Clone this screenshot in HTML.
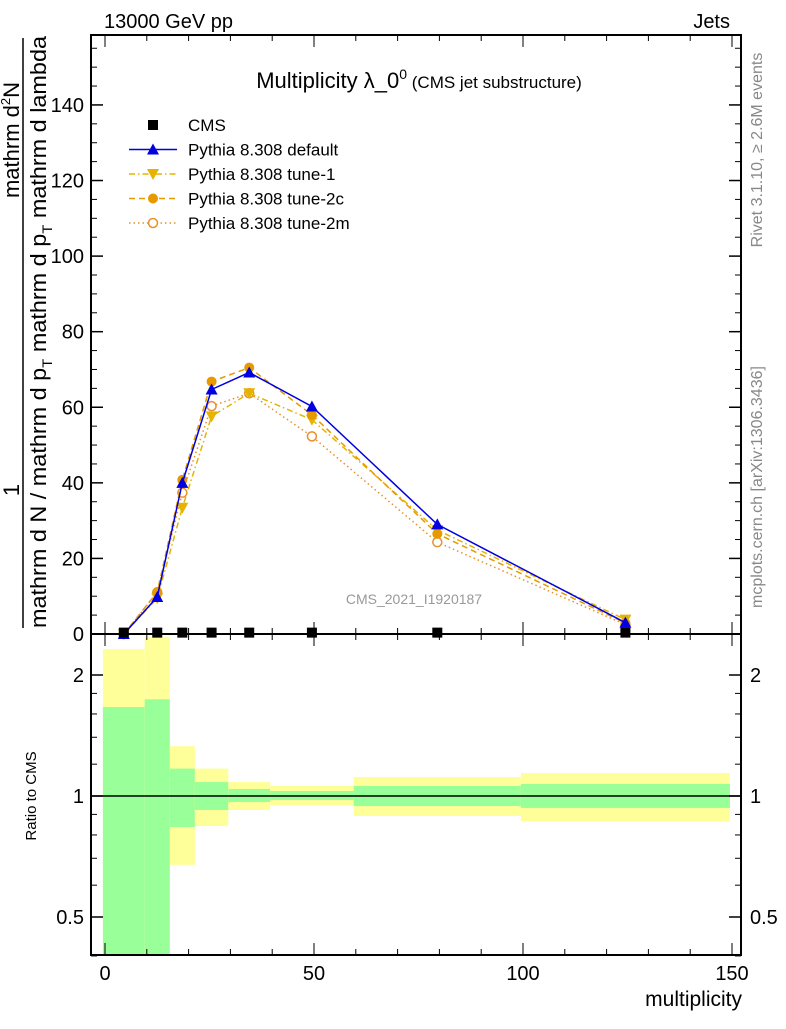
<!DOCTYPE html>
<html><head><meta charset="utf-8"><style>
body{margin:0;background:#fff}
svg{font-family:"Liberation Sans",sans-serif}
</style></head><body>
<svg id="c" width="786" height="1024" viewBox="0 0 786 1024" xmlns="http://www.w3.org/2000/svg">
<text x="104" y="28" font-size="20">13000 GeV pp</text>
<text x="730" y="28" font-size="20" text-anchor="end">Jets</text>
<text x="419" y="88" font-size="22" text-anchor="middle">Multiplicity λ_0<tspan font-size="14" dy="-9">0</tspan><tspan font-size="17" dy="9"> (CMS jet substructure)</tspan></text>
<text x="414" y="604" font-size="14" fill="#999" text-anchor="middle">CMS_2021_I1920187</text>
<text transform="translate(762,150) rotate(-90)" font-size="16" fill="#888" text-anchor="middle">Rivet 3.1.10, ≥ 2.6M events</text>
<text transform="translate(762,487) rotate(-90)" font-size="16" fill="#888" text-anchor="middle">mcplots.cern.ch [arXiv:1306.3436]</text>
<g font-size="22">
<text transform="translate(19,140) rotate(-90)" text-anchor="middle">mathrm d<tspan font-size="13" dy="-9">2</tspan><tspan dy="9">N</tspan></text>
<text transform="translate(19,490) rotate(-90)" text-anchor="middle">1</text>
<line x1="23" y1="38" x2="23" y2="628" stroke="#000" stroke-width="1.5"/>
<text transform="translate(46,628) rotate(-90)" textLength="592" lengthAdjust="spacingAndGlyphs">mathrm d N / mathrm d p<tspan font-size="14" dy="6">T</tspan><tspan dy="-6"> mathrm d p</tspan><tspan font-size="14" dy="6">T</tspan><tspan dy="-6"> mathrm d lambda</tspan></text>
</g>
<text transform="translate(36,796) rotate(-90)" font-size="15" text-anchor="middle">Ratio to CMS</text>
<text x="742" y="1006" font-size="21" text-anchor="end">multiplicity</text>
<g id="bands"></g><g id="axes"></g><g id="series"></g><g id="legend"></g>
<rect x="91" y="35" width="650" height="599" fill="none" stroke="#000" stroke-width="2"/>
<rect x="91" y="634" width="650" height="321" fill="none" stroke="#000" stroke-width="2"/>
</svg>
<script>
const NS="http://www.w3.org/2000/svg";
const binEdges=[-0.5,9.5,15.5,21.5,29.5,39.5,59.5,99.5,149.5];
const binCenters=[4.5,12.5,18.5,25.5,34.5,49.5,79.5,124.5];
const cmsVals=[0.1,0.1,0.1,0.1,0.1,0.1,0.1,0.1];
const defaultVals=[0,9.8,40,64.7,69.2,60.2,29,3];
const tune1Vals=[0,9.5,33.4,57.6,63.7,56.7,27.5,3.8];
const tune2cVals=[0,11.1,40.8,66.8,70.5,58,26.5,2.9];
const tune2mVals=[0,11,37.4,60.3,63.7,52.3,24.3,2.5];
const yellowHi=[2.32,2.49,1.33,1.17,1.083,1.059,1.115,1.141];
const greenHi=[1.665,1.74,1.17,1.083,1.041,1.029,1.059,1.071];
const greenLo=[0.3,0.3,0.837,0.923,0.966,0.977,0.944,0.934];
const yellowLo=[0.3,0.3,0.674,0.842,0.923,0.95,0.892,0.866];
const yTicks=[0,20,40,60,80,100,120,140];
const xTicks=[0,50,100,150];
const rTicks=[0.5,1,2];
const X=v=>105+v*4.18;
const Y=v=>634-v*3.779;
const R=v=>796-Math.log2(v)*121;
function mk(tag,attrs,parent){const e=document.createElementNS(NS,tag);for(const k in attrs)e.setAttribute(k,attrs[k]);parent.appendChild(e);return e;}
const bands=document.getElementById('bands'),axes=document.getElementById('axes'),series=document.getElementById('series'),legend=document.getElementById('legend');
const clip=v=>Math.min(Math.max(v,635),954);
for(let i=0;i<binCenters.length;i++){
 const x1=X(binEdges[i]),x2=X(binEdges[i+1]);
 const y=mk('rect',{x:x1,y:clip(R(yellowHi[i])),width:x2-x1,height:clip(R(yellowLo[i]))-clip(R(yellowHi[i])),fill:'#ffff99'},bands);
 
 
 const g=mk('rect',{x:x1,y:clip(R(greenHi[i])),width:x2-x1,height:clip(R(greenLo[i]))-clip(R(greenHi[i])),fill:'#99ff99'},bands);
 
 
}
mk('line',{x1:91,x2:741,y1:R(1),y2:R(1),stroke:'#000','stroke-width':1.5},axes);
yTicks.forEach(t=>{const y=Y(t);mk('line',{x1:91,x2:103,y1:y,y2:y,stroke:'#000','stroke-width':1.5},axes);mk('line',{x1:729,x2:741,y1:y,y2:y,stroke:'#000','stroke-width':1.5},axes);
 const tx=mk('text',{x:84,y:y+7,'font-size':20,'text-anchor':'end'},axes);tx.textContent=t;
 
 
 for(let k=1;k<4;k++){const ym=Y(t+k*5);if(ym>36){mk('line',{x1:91,x2:97,y1:ym,y2:ym,stroke:'#000'},axes);mk('line',{x1:735,x2:741,y1:ym,y2:ym,stroke:'#000'},axes);}}});
for(let v=0;v<=150;v+=10){const x=X(v);const big=v%50===0;
 [[634,big?-12:-6],[35,big?12:6],[955,big?-12:-6],[634,big?12:6]].forEach(([y0,d])=>mk('line',{x1:x,x2:x,y1:y0,y2:y0+d,stroke:'#000'},axes));}
xTicks.forEach(t=>{const tx=mk('text',{x:X(t),y:980,'font-size':20,'text-anchor':'middle'},axes);tx.textContent=t;
 
 });
rTicks.forEach(t=>{const y=R(t);mk('line',{x1:91,x2:103,y1:y,y2:y,stroke:'#000','stroke-width':1.5},axes);mk('line',{x1:729,x2:741,y1:y,y2:y,stroke:'#000','stroke-width':1.5},axes);
 const a=mk('text',{x:84,y:y+7,'font-size':20,'text-anchor':'end'},axes);a.textContent=t;
 
 
 const b=mk('text',{x:750,y:y+7,'font-size':20},axes);b.textContent=t;
 
 });
[0.4,0.6,0.7,0.8,0.9,1.2,1.4,1.6,1.8].forEach(t=>{const y=R(t);mk('line',{x1:91,x2:97,y1:y,y2:y,stroke:'#000'},axes);mk('line',{x1:735,x2:741,y1:y,y2:y,stroke:'#000'},axes);});
function marker(type,x,y,col,p){
 if(type==='up')return mk('polygon',{points:`${x},${y-6} ${x-6},${y+5} ${x+6},${y+5}`,fill:col},p);
 if(type==='down')return mk('polygon',{points:`${x},${y+6} ${x-6},${y-5} ${x+6},${y-5}`,fill:col},p);
 if(type==='dot')return mk('circle',{cx:x,cy:y,r:5,fill:col},p);
 if(type==='open')return mk('circle',{cx:x,cy:y,r:4.5,fill:'#fff',stroke:col,'stroke-width':1.5},p);
 return mk('rect',{x:x-5,y:y-5,width:10,height:10,fill:col},p);
}
const defs=[
 {vals:tune2mVals,col:'#e8902a',dash:'1.5,3',m:'open',name:'tune-2m',label:'Pythia 8.308 tune-2m'},
 {vals:tune1Vals,col:'#e6b400',dash:'6,3,1.5,3',m:'down',name:'tune-1',label:'Pythia 8.308 tune-1'},
 {vals:tune2cVals,col:'#e69a00',dash:'6,4',m:'dot',name:'tune-2c',label:'Pythia 8.308 tune-2c'},
 {vals:defaultVals,col:'#0000e0',dash:'',m:'up',name:'default',label:'Pythia 8.308 default'}];
defs.forEach(d=>{const g=mk('g',{},series);
 
 
 mk('polyline',{points:d.vals.map((v,i)=>X(binCenters[i])+','+Y(v)).join(' '),fill:'none',stroke:d.col,'stroke-width':1.5,'stroke-dasharray':d.dash},g);
 d.vals.forEach((v,i)=>marker(d.m,X(binCenters[i]),Y(v),d.col,g));});
const cg=mk('g',{},series);


cmsVals.forEach((v,i)=>marker('sq',X(binCenters[i]),Y(v)-1,'#000',cg));
const order=[{label:'CMS',m:'sq',col:'#000',dash:null},defs[3],defs[1],defs[2],defs[0]];
order.forEach((it,k)=>{const y=125+k*24.5;const g=mk('g',{},legend);
 
 
 if(it.dash!==null)mk('line',{x1:129,x2:177,y1:y,y2:y,stroke:it.col,'stroke-width':1.5,'stroke-dasharray':it.dash},g);
 marker(it.m,153,y,it.col,g);
 const t=mk('text',{x:188,y:y+6,'font-size':17},g);t.textContent=it.label;});
</script>
</body></html>
